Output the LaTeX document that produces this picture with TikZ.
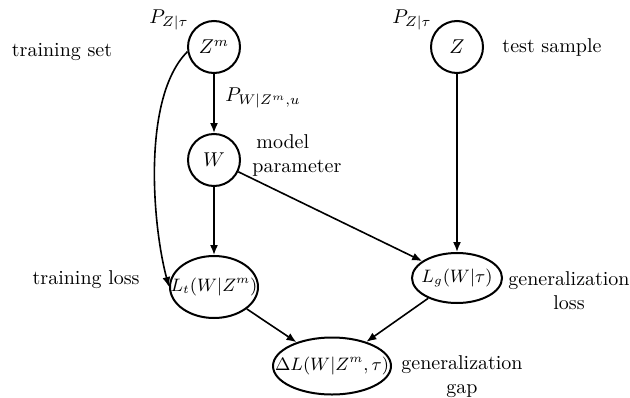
\documentclass[tikz,border=0pt]{standalone}
\usepackage{amsmath}
\usepackage{amssymb}
\usepackage{tikz}
\usetikzlibrary{arrows.meta,shapes.geometric,positioning}
\tikzset{
	rv/.style={circle,draw,line width=1pt,minimum size=26pt,inner sep=0pt},
	loss/.style={ellipse,draw,line width=1pt,inner sep=0pt,font=\small},
	ar/.style={-{Latex[length=5pt,width=4pt]},thick},
	note/.style={inner sep=1pt}
}
\newcommand{\tightbox}[1]{\makebox[0pt]{#1}}

\begin{document}
\begin{tikzpicture}[x=0.5pt,y=0.5pt]
	\useasboundingbox (0,0) rectangle (630,397);
	% random variables
	\node[rv] (Zm) at (214,350) {$Z^m$};
	\node[rv] (Z) at (457,350) {$Z$};
	\node[rv] (W) at (214,237) {$W$};
	% losses
	\node[loss, minimum width=44pt, minimum height=31pt] (Lt) at (214,110) {\tightbox{$L_t(W|Z^m)$}};
	\node[loss, minimum width=45pt, minimum height=25pt] (Lg) at (457,119) {\tightbox{$L_g(W|\tau)$}};
	\node[loss, minimum width=59pt, minimum height=28.5pt] (DL) at (332,31) {\tightbox{$\Delta L(W|Z^m,\tau)$}};
	% labels
	\node[note] (Pzm) at (169,377) {$P_{Z|\tau}$};
	\node[note] (Pz) at (412,377) {$P_{Z|\tau}$};
	\node[note] (Pw) at (263,299) {$P_{W|Z^m,u}$};
	\node[note] (trset) at (62,345) {training set};
	\node[note] (tsamp) at (552,349) {test sample};
	\node[note, anchor=west, align=left] (mpar) at (250,242) {\hspace{2pt}model\\parameter};
	\node[note, anchor=east] (trloss) at (142,117) {training loss};
	\node[note, align=center] (gloss) at (569,106) {generalization\\loss};
	\node[note, align=center] (ggap) at (462,20) {generalization\\gap};
	% edges
	\draw[ar] (Zm) -- (W);
	\draw[ar] (W) -- (Lt);
	\draw[ar] (W) -- (Lg);
	\draw[ar] (Z) -- (Lg);
	\draw[ar] (Zm.190) to[out=225,in=105,looseness=0.7] (Lt.west);
	\draw[ar] (Lt) -- (DL);
	\draw[ar] (Lg) -- (DL);
\end{tikzpicture}
\end{document}
